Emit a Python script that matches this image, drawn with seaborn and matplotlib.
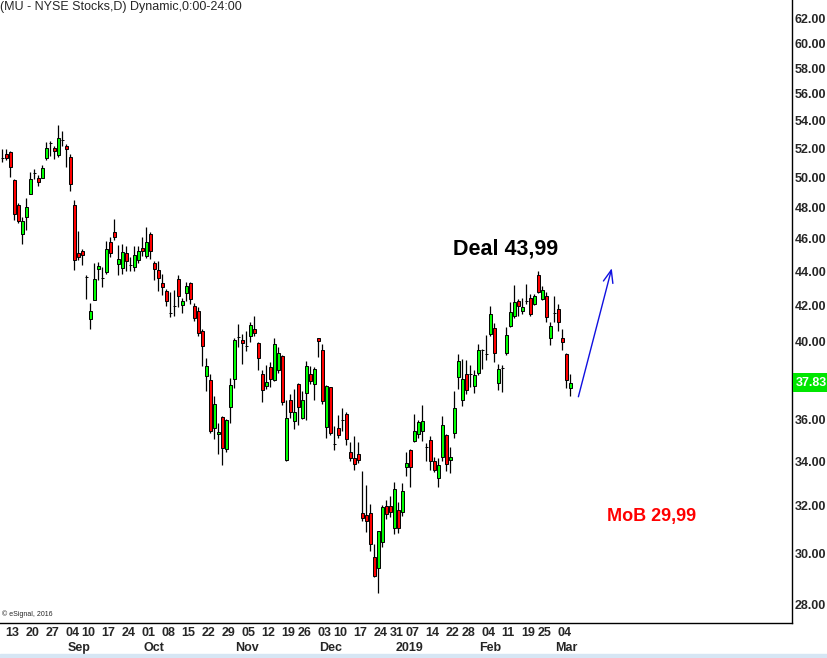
import matplotlib
matplotlib.use("Agg")
import matplotlib.pyplot as plt
import matplotlib.ticker as mticker
import seaborn as sns
import pandas as pd

# MU daily candles (Aug 10 2018 .. Mar 7 2019)
opens = [51.30, 51.60, 51.75, 49.80, 48.18, 46.27, 47.40, 48.91, 50.30, 49.98,
         49.98, 51.33, 52.40, 52.05, 51.57, 52.62, 52.15, 51.38, 48.18, 45.14,
         45.25, 43.67, 41.22, 42.34, 44.14, 43.61, 43.96, 45.79, 46.42, 44.42,
         44.23, 45.10, 44.37, 44.27, 44.68, 45.44, 44.94, 46.31, 44.48, 44.06,
         43.29, 42.84, 41.57, 41.96, 43.57, 42.06, 42.75, 43.31, 42.00, 41.67,
         40.56, 38.17, 37.98, 35.59, 35.27, 36.10, 34.58, 36.58, 38.04, 40.24,
         40.06, 39.77, 40.30, 40.67, 39.91, 38.26, 37.64, 38.63, 37.98, 38.51,
         39.21, 34.05, 36.95, 35.90, 37.74, 36.05, 37.32, 38.30, 37.78, 40.17,
         39.53, 35.62, 37.62, 34.79, 35.56, 35.97, 36.24, 34.41, 34.13, 34.32,
         31.69, 31.60, 31.69, 29.86, 29.40, 30.45, 31.97, 31.97, 31.06, 31.81,
         31.73, 33.71, 34.50, 34.95, 35.27, 35.40, 34.68, 34.98, 33.99, 33.25,
         34.20, 35.24, 34.06, 35.32, 38.12, 36.93, 38.25, 38.30, 37.67, 38.33,
         39.53, 39.31, 40.43, 40.76, 37.83, 38.60, 39.40, 40.85, 41.40, 42.24,
         41.68, 42.24, 42.45, 42.10, 43.76, 42.39, 42.58, 40.21, 41.60, 41.82,
         40.21, 39.35, 37.57]
highs = [51.93, 51.95, 51.80, 49.87, 48.27, 47.36, 48.60, 50.37, 50.60, 50.19,
         50.83, 52.44, 52.50, 52.20, 53.70, 53.26, 52.30, 51.60, 48.47, 46.50,
         45.35, 43.76, 42.18, 44.52, 44.58, 44.27, 45.88, 46.10, 47.25, 45.62,
         45.67, 45.52, 44.89, 45.56, 45.56, 46.12, 46.71, 46.44, 44.62, 44.62,
         43.82, 42.98, 42.78, 42.88, 43.76, 42.45, 43.35, 43.37, 42.16, 41.94,
         40.67, 39.12, 38.30, 37.13, 35.82, 36.14, 36.00, 38.07, 40.20, 40.94,
         40.43, 40.56, 41.07, 41.39, 39.96, 38.50, 38.74, 38.91, 40.18, 39.70,
         39.30, 36.95, 37.23, 37.50, 37.80, 37.40, 38.97, 38.71, 38.63, 40.20,
         39.86, 37.69, 37.62, 35.67, 36.20, 36.56, 36.37, 34.92, 35.19, 34.90,
         33.57, 32.91, 32.07, 30.38, 30.92, 32.04, 32.27, 32.43, 33.06, 32.17,
         33.00, 34.43, 34.55, 36.24, 35.95, 36.71, 34.87, 35.19, 34.19, 34.16,
         36.15, 35.27, 34.67, 37.41, 39.32, 39.04, 39.00, 38.74, 38.48, 39.86,
         39.62, 40.34, 41.96, 41.04, 38.79, 38.74, 40.80, 42.20, 43.18, 42.39,
         42.43, 43.24, 42.69, 42.65, 44.00, 43.12, 42.78, 41.10, 42.53, 42.10,
         40.67, 39.40, 38.30]
lows = [51.03, 51.20, 50.02, 47.20, 47.02, 45.66, 46.52, 48.91, 49.91, 49.44,
        49.98, 51.17, 51.45, 51.28, 51.40, 52.20, 50.71, 49.09, 44.10, 44.70,
        44.39, 42.39, 40.68, 42.34, 43.47, 43.08, 43.86, 44.89, 45.94, 43.76,
        43.86, 44.02, 44.00, 44.00, 44.52, 44.95, 44.83, 44.75, 43.49, 42.82,
        42.60, 41.96, 41.35, 41.40, 41.90, 41.60, 42.29, 42.10, 41.13, 40.33,
        38.68, 37.40, 35.35, 35.06, 34.32, 33.81, 34.43, 35.79, 37.57, 39.70,
        38.82, 39.50, 39.96, 40.33, 38.47, 36.84, 37.52, 37.60, 37.90, 38.33,
        36.71, 34.00, 36.07, 35.50, 35.70, 36.00, 35.98, 37.76, 36.94, 39.17,
        36.76, 35.11, 35.23, 34.50, 35.11, 35.43, 34.76, 34.00, 33.60, 33.92,
        31.33, 30.90, 30.09, 29.05, 28.42, 30.27, 31.45, 31.50, 30.80, 30.85,
        31.58, 33.33, 32.85, 34.92, 35.08, 34.95, 34.03, 33.60, 33.49, 32.83,
        34.03, 33.57, 33.45, 35.11, 37.49, 36.63, 37.27, 37.60, 37.30, 38.21,
        38.56, 38.99, 40.28, 38.91, 37.44, 37.36, 39.30, 40.80, 41.32, 41.40,
        41.54, 42.10, 41.40, 42.04, 42.72, 42.33, 41.07, 39.80, 41.10, 40.60,
        39.53, 37.55, 37.16]
closes = [51.30, 51.35, 50.70, 47.55, 47.14, 47.10, 48.05, 49.91, 50.30, 49.69,
          50.67, 52.05, 52.40, 51.81, 52.72, 52.62, 51.95, 49.58, 44.71, 44.89,
          44.98, 43.67, 41.72, 43.57, 44.31, 43.61, 45.35, 45.10, 46.08, 44.73,
          45.17, 44.64, 44.37, 44.98, 45.25, 45.21, 45.79, 45.21, 44.14, 43.61,
          43.10, 42.28, 41.57, 41.96, 42.53, 42.29, 43.16, 42.39, 41.32, 40.48,
          39.76, 38.68, 35.40, 36.77, 35.38, 34.63, 35.95, 37.69, 40.11, 40.24,
          39.91, 39.77, 40.92, 40.49, 39.14, 37.45, 37.85, 38.04, 39.88, 39.40,
          36.84, 36.07, 36.37, 36.36, 36.58, 36.93, 38.71, 37.93, 38.56, 40.02,
          36.89, 37.66, 35.32, 34.79, 35.22, 35.97, 35.03, 34.16, 33.86, 34.06,
          31.46, 31.35, 30.37, 29.07, 30.92, 31.94, 31.65, 31.75, 32.75, 31.06,
          32.65, 33.93, 33.71, 35.40, 35.85, 35.93, 34.68, 33.99, 33.60, 33.81,
          35.70, 33.86, 34.19, 36.56, 38.95, 38.04, 37.44, 38.30, 38.21, 39.57,
          39.53, 39.31, 41.50, 39.40, 38.56, 38.60, 40.37, 41.65, 42.22, 41.96,
          41.94, 42.24, 41.54, 42.53, 42.78, 42.92, 41.35, 40.87, 41.60, 41.07,
          39.96, 37.98, 37.83]

holidays = ["2018-09-03", "2018-11-22", "2018-12-05", "2018-12-25",
            "2019-01-01", "2019-01-21", "2019-02-18"]
price_ticks = list(range(28, 63, 2))
last_price = 37.83

dates = pd.bdate_range("2018-08-10", "2019-04-30")
dates = dates[~dates.isin(pd.to_datetime(holidays))][:len(closes)]
df = pd.DataFrame({"date": dates, "open": opens, "high": highs,
                   "low": lows, "close": closes})
df["x"] = range(len(df))
df["bottom"] = df[["open", "close"]].min(axis=1)
df["body"] = (df["close"] - df["open"]).abs()
df["color"] = ["#00ff00" if c > o else ("#ff0000" if c < o else "black")
               for o, c in zip(df["open"], df["close"])]

sns.set_style("white")
plt.rcParams["font.family"] = ["Liberation Sans", "DejaVu Sans"]

W, H = 827, 658
fig = plt.figure(figsize=(W / 100, H / 100), dpi=100)
ax = fig.add_axes([0, 1 - 623 / H, 792 / W, 623 / H])

# candles
ax.vlines(df["x"], df["low"], df["high"], color="black", lw=0.9, zorder=2)
ax.bar(df["x"], df["body"], bottom=df["bottom"], width=0.78,
       color=df["color"], edgecolor="black", linewidth=0.7, zorder=3)

ax.set_yscale("log")
ax.set_ylim(27.29, 63.62)
ax.set_xlim(-0.575, 197.4)
# the last-price flag hides the tick label it sits on
shown_ticks = [v for v in price_ticks if abs(v - last_price) > 0.5]
ax.yaxis.set_major_locator(mticker.FixedLocator(shown_ticks))
ax.yaxis.set_minor_locator(mticker.NullLocator())
ax.set_yticklabels([f"{v:.2f}" for v in shown_ticks])
ax.yaxis.tick_right()
ax.tick_params(axis="y", length=0, pad=2, labelsize=9)
for lbl in ax.get_yticklabels():
    lbl.set_fontweight("bold")
ax.set_xticks([])
sns.despine(ax=ax, left=True, top=True, right=False, bottom=False)
for s in ["right", "bottom"]:
    ax.spines[s].set_color("black")
    ax.spines[s].set_linewidth(1.0)

# date labels: first trading day of each week, then of each month
prev = df["date"].shift(1)
for i, (d, p) in enumerate(zip(df["date"], prev)):
    if i > 0 and d.isocalendar()[1] != p.isocalendar()[1]:
        ax.annotate(f"{d.day:02d}", xy=(i, 0), xycoords=("data", "axes fraction"),
                    xytext=(-1, -10), textcoords="offset pixels",
                    ha="left", va="center", fontsize=9, fontweight="bold")
    if i > 0 and d.month != p.month:
        name = "2019" if d.month == 1 else d.strftime("%b")
        ax.annotate(name, xy=(i, 0), xycoords=("data", "axes fraction"),
                    xytext=(1, -25), textcoords="offset pixels",
                    ha="left", va="center", fontsize=9, fontweight="bold")

# last price flag
ax.annotate(f"{last_price:.2f}", xy=(1, last_price), xycoords=("axes fraction", "data"),
            xytext=(4, 0), textcoords="offset pixels", ha="left", va="center",
            fontsize=9, fontweight="bold", color="white", annotation_clip=False,
            bbox=dict(boxstyle="square,pad=0.25", fc="#00e600", ec="none"))

# annotations
ax.text(125.9, 45.36, "Deal 43,99", fontsize=15.5, fontweight="bold",
        ha="center", va="center", color="black")
ax.text(162.4, 31.52, "MoB 29,99", fontsize=13, fontweight="bold",
        ha="center", va="center", color="#ff0000")
ax.annotate("", xy=(152.35, 44.19), xytext=(144.0, 37.11),
            arrowprops=dict(arrowstyle="->,head_length=0.9,head_width=0.35",
                            color="#1010e0", lw=1.0, shrinkA=0, shrinkB=0))

fig.text(0.0, 1 - 7 / H, "(MU - NYSE Stocks,D) Dynamic,0:00-24:00",
         fontsize=9, ha="left", va="center")
fig.text(2 / W, 1 - 614 / H, "\u00a9 eSignal, 2016", fontsize=5,
         ha="left", va="center")
fig.patches.append(plt.Rectangle((0, 0), 1, 4 / H, transform=fig.transFigure,
                                 color="#d6e6f4", zorder=0))

fig.savefig("out.png", dpi=100)
